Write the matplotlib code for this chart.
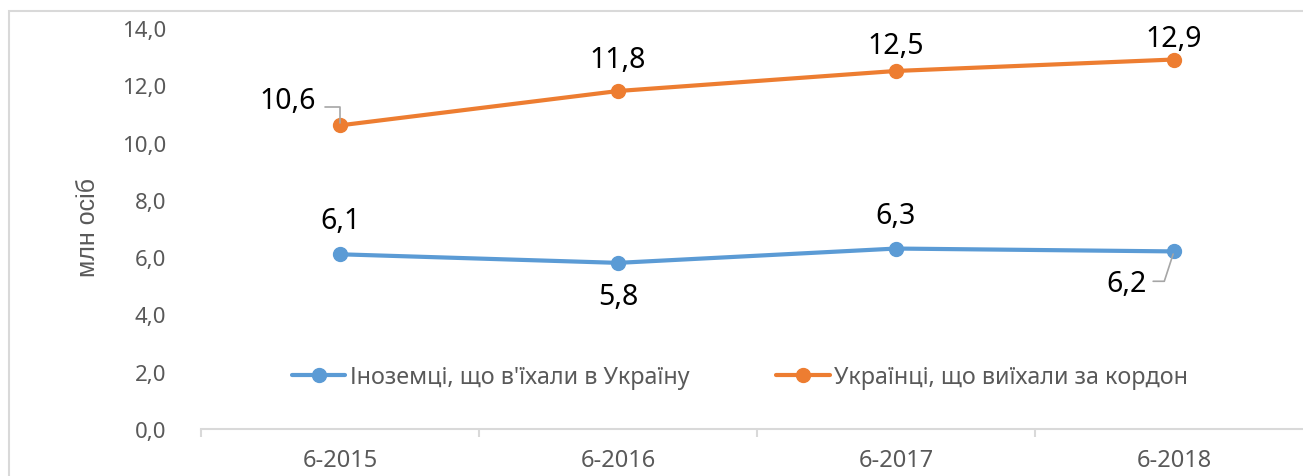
import matplotlib.pyplot as plt
from matplotlib.patches import Rectangle
from matplotlib.ticker import FuncFormatter

plt.rcParams['font.family'] = ['Noto Sans', 'DejaVu Sans']

# data
periods = ['6-2015', '6-2016', '6-2017', '6-2018']
foreigners_in = [6.1, 5.8, 6.3, 6.2]
ukrainians_out = [10.6, 11.8, 12.5, 12.9]
series_names = ["Іноземці, що в'їхали в Україну", 'Українці, що виїхали за кордон']
y_label = 'млн осіб'

blue = '#5B9BD5'
orange = '#ED7D31'
grey_text = '#595959'

W, H = 1303, 477
fig = plt.figure(figsize=(W / 100, H / 100), dpi=100)

# chart area border (extends past the right and bottom edge)
fig.patches.append(Rectangle((9 / W, -0.1), 1.2, 1 - 12 / H + 0.1,
                             transform=fig.transFigure, fill=False,
                             edgecolor='#D9D9D9', linewidth=1.5))

ax = fig.add_axes([201 / W, 47 / H, 1112 / W, 401 / H])
x = list(range(len(periods)))

l1, = ax.plot(x, foreigners_in, color=blue, lw=3, marker='o', ms=10,
              solid_capstyle='round', label=series_names[0])
l2, = ax.plot(x, ukrainians_out, color=orange, lw=3, marker='o', ms=10,
              solid_capstyle='round', label=series_names[1])

ax.set_xlim(-0.5, len(periods) - 0.5)
ax.set_ylim(0, 14)
ax.set_yticks(range(0, 15, 2))
ax.yaxis.set_major_formatter(FuncFormatter(lambda v, p: f'{v:.1f}'.replace('.', ',')))
ax.set_xticks(x)
ax.set_xticklabels(periods)
ax.set_xticks([i - 0.5 for i in range(len(periods) + 1)], minor=True)

for s in ['top', 'right', 'left']:
    ax.spines[s].set_visible(False)
ax.spines['bottom'].set_color('#D9D9D9')
ax.spines['bottom'].set_linewidth(1.5)
ax.tick_params(axis='y', length=0, pad=25, labelsize=16, labelcolor=grey_text)
ax.tick_params(axis='x', which='major', length=0, pad=14, labelsize=17,
               labelcolor=grey_text)
ax.tick_params(axis='x', which='minor', length=6, width=1.5, color='#D9D9D9')

ax.set_ylabel(y_label, family=['Liberation Sans', 'DejaVu Sans'], fontsize=18,
              color=grey_text)
ax.yaxis.set_label_coords((100 - 201) / 1112, (430 - 228) / 401)

# data labels: offsets in points (dx, dy)
fmt = lambda v: f'{v:.1f}'.replace('.', ',')
blue_offsets = [(0, 24), (0, -24), (0, 24), (-34, -23)]
orange_offsets = [(-38, 18), (0, 23), (0, 18), (0, 15)]
for xi, v, off in zip(x, foreigners_in, blue_offsets):
    ax.annotate(fmt(v), (xi, v), xytext=off, textcoords='offset points',
                ha='center', va='center', fontsize=20.5, color='black')
for xi, v, off in zip(x, ukrainians_out, orange_offsets):
    ax.annotate(fmt(v), (xi, v), xytext=off, textcoords='offset points',
                ha='center', va='center', fontsize=20.5, color='black')

# leader lines
ax.annotate('', xy=(x[0], ukrainians_out[0]), xytext=(-10.5, 13),
            textcoords='offset points',
            arrowprops=dict(arrowstyle='-', color='#A6A6A6', lw=1.2,
                            shrinkA=0, shrinkB=2,
                            connectionstyle='angle,angleA=0,angleB=90,rad=0'))
ax.annotate('', xy=(x[3], foreigners_in[3]), xytext=(-15, -21.5),
            textcoords='offset points',
            arrowprops=dict(arrowstyle='-', color='#A6A6A6', lw=1.2,
                            shrinkA=0, shrinkB=2,
                            connectionstyle='angle,angleA=0,angleB=72,rad=0'))

fig.legend(handles=[l1, l2], loc='center', bbox_to_anchor=(740 / W, 1 - 378 / H),
           ncol=2, frameon=False, fontsize=16.8, labelcolor=grey_text,
           handlelength=2.3, handletextpad=0.2, columnspacing=3.7)

fig.savefig('out.png', dpi=100)
